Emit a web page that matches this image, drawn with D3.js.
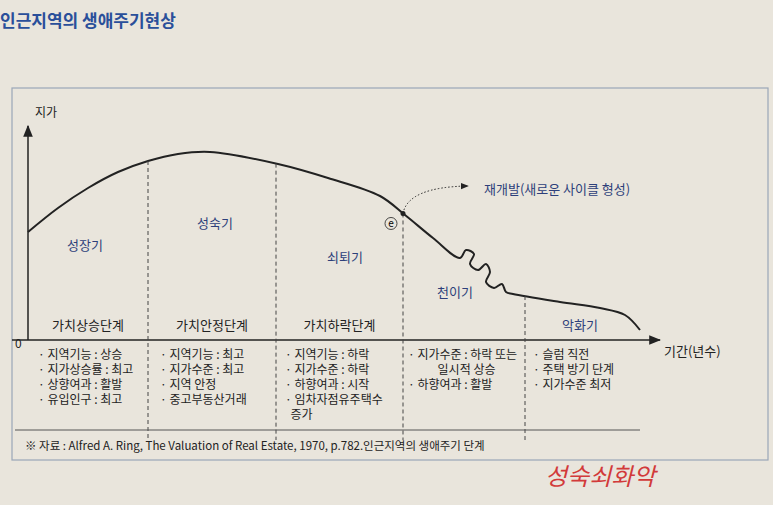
<!DOCTYPE html>
<html><head><meta charset="utf-8">
<script src="https://cdn.jsdelivr.net/npm/d3@7"></script>
<style>
body{margin:0;background:#e9e5dc;}
svg{font-family:"Noto Sans CJK KR","Noto Sans",sans-serif;}
</style></head>
<body><div id="chart"></div>
<script>
var width = 773, height = 505;

// curve: [period, land price]
var curveT = [0, 30, 60, 90, 120, 150, 182, 250, 300, 352, 377, 405, 432, 438, 446, 442, 450, 458, 462, 458, 466, 474, 478, 485, 532, 572, 597, 612];
var curveV = [108, 132, 152, 168, 179, 186, 188, 176, 162, 144, 125, 102, 82, 90, 86, 76, 70, 76, 68, 58, 52, 56, 48, 46, 38, 32, 25, 10];
var stageT = [120, 248, 375, 497];
var stageNames = ["가치상승단계", "가치안정단계", "가치하락단계"];
var phaseNames = ["성장기", "성숙기", "쇠퇴기", "천이기", "악화기"];
var phaseT = [57, 187, 317, 427, 552];
var phaseV = [90, 112, 78, 43, 10];
var notes = [
  ["· 지역기능 : 상승", "· 지가상승률 : 최고", "· 상향여과 : 활발", "· 유입인구 : 최고"],
  ["· 지역기능 : 최고", "· 지가수준 : 최고", "· 지역 안정", "· 중고부동산거래"],
  ["· 지역기능 : 하락", "· 지가수준 : 하락", "· 하향여과 : 시작", "· 임차자점유주택수", "  증가"],
  ["· 지가수준 : 하락 또는", "           일시적 상승", "· 하향여과 : 활발"],
  ["· 슬럼 직전", "· 주택 방기 단계", "· 지가수준 최저"]
];

var svg = d3.select("#chart").append("svg").attr("width", width).attr("height", height);

var x = d3.scaleLinear().domain([0, 622]).range([28, 650]);
var y = d3.scaleLinear().domain([0, 220]).range([340, 120]);
var ink = "#222";

svg.append("text").attr("x", 0).attr("y", 27).attr("fill", "#2a4f9a")
  .attr("font-size", 17).attr("font-weight", "bold").text("인근지역의 생애주기현상");

// frame
svg.append("rect").attr("x", 12).attr("y", 88).attr("width", 756).attr("height", 372)
  .attr("fill", "none").attr("stroke", "#9aa6b8").attr("stroke-width", 1.2);

svg.append("defs").append("marker").attr("id", "arr").attr("viewBox", "0 0 10 10")
  .attr("refX", 9).attr("refY", 5).attr("markerWidth", 8).attr("markerHeight", 8).attr("orient", "auto")
  .append("path").attr("d", "M0,1L10,5L0,9z").attr("fill", ink);

// axes
svg.append("line").attr("x1", x(0)).attr("y1", y(0)).attr("x2", x(0)).attr("y2", 126)
  .attr("stroke", ink).attr("stroke-width", 1.5).attr("marker-end", "url(#arr)");
svg.append("line").attr("x1", 12).attr("y1", y(0)).attr("x2", 660).attr("y2", y(0))
  .attr("stroke", ink).attr("stroke-width", 1.5).attr("marker-end", "url(#arr)");
svg.append("text").attr("x", 35).attr("y", 117).attr("font-size", 12).attr("fill", ink).text("지가");
svg.append("text").attr("x", 15).attr("y", 348).attr("font-size", 12).attr("fill", ink).text("0");
svg.append("text").attr("x", 664).attr("y", 356).attr("font-size", 13).attr("fill", ink).text("기간(년수)");

var pts = curveT.map(function(t, i) { return [t, curveV[i]]; });
var line = d3.line().x(function(d) { return x(d[0]); }).y(function(d) { return y(d[1]); }).curve(d3.curveCatmullRom);
svg.append("path").attr("d", line(pts)).attr("fill", "none").attr("stroke", ink).attr("stroke-width", 2);

// stage dividers
var interp = function(t) {
  for (var i = 1; i < curveT.length; i++) if (curveT[i] >= t) {
    var a = (t - curveT[i-1]) / (curveT[i] - curveT[i-1]);
    return curveV[i-1] + a * (curveV[i] - curveV[i-1]);
  }
  return 0;
};
svg.selectAll(".div").data(stageT).enter().append("line")
  .attr("x1", function(d) { return x(d); }).attr("x2", function(d) { return x(d); })
  .attr("y1", function(d) { return y(interp(d)); }).attr("y2", 440)
  .attr("stroke", "#444").attr("stroke-dasharray", "4,3");

svg.selectAll(".stg").data(stageNames).enter().append("text")
  .attr("x", function(d, i) { return (x(i ? stageT[i-1] : 0) + x(stageT[i])) / 2; })
  .attr("y", 330).attr("text-anchor", "middle").attr("font-size", 13).attr("fill", ink).text(function(d) { return d; });

svg.selectAll(".ph").data(phaseNames).enter().append("text")
  .attr("x", function(d, i) { return x(phaseT[i]); }).attr("y", function(d, i) { return y(phaseV[i]); })
  .attr("text-anchor", "middle").attr("font-size", 13).attr("fill", "#2d3f7a").text(function(d) { return d; });

// redevelopment branch
var eT = stageT[2];
svg.append("path")
  .attr("d", "M" + x(eT) + "," + y(interp(eT)) + " Q" + (x(eT) + 5) + "," + 187 + " " + (x(eT) + 65) + ",186")
  .attr("fill", "none").attr("stroke", ink).attr("stroke-dasharray", "1.5,2").attr("marker-end", "url(#arr)");
svg.append("circle").attr("cx", x(eT)).attr("cy", y(interp(eT))).attr("r", 2.5).attr("fill", ink);
svg.append("circle").attr("cx", x(eT) - 12).attr("cy", y(interp(eT)) + 10).attr("r", 6).attr("fill", "none").attr("stroke", ink).attr("stroke-width", 0.8);
svg.append("text").attr("x", x(eT) - 12).attr("y", y(interp(eT)) + 14).attr("text-anchor", "middle").attr("font-size", 10).text("e");
svg.append("text").attr("x", 484).attr("y", 194).attr("font-size", 13).attr("fill", "#2d3f7a").text("재개발(새로운 사이클 형성)");

// notes
var colX = [38, 160, 285, 408, 533];
notes.forEach(function(col, i) {
  svg.append("g").selectAll("text").data(col).enter().append("text")
    .attr("x", colX[i]).attr("y", function(d, j) { return 359 + j * 15; })
    .attr("font-size", 12).attr("fill", ink).attr("xml:space", "preserve").text(function(d) { return d; });
});

svg.append("line").attr("x1", 15).attr("y1", 430).attr("x2", 640).attr("y2", 430).attr("stroke", "#555");
svg.append("text").attr("x", 25).attr("y", 450).attr("font-size", 11.5).attr("fill", ink)
  .text("※ 자료 : Alfred A. Ring, The Valuation of Real Estate, 1970, p.782.인근지역의 생애주기 단계");
svg.append("text").attr("x", 545).attr("y", 485).attr("font-size", 24).attr("fill", "#d23a3a")
  .attr("font-style", "italic").text("성숙쇠화악");
</script></body></html>
